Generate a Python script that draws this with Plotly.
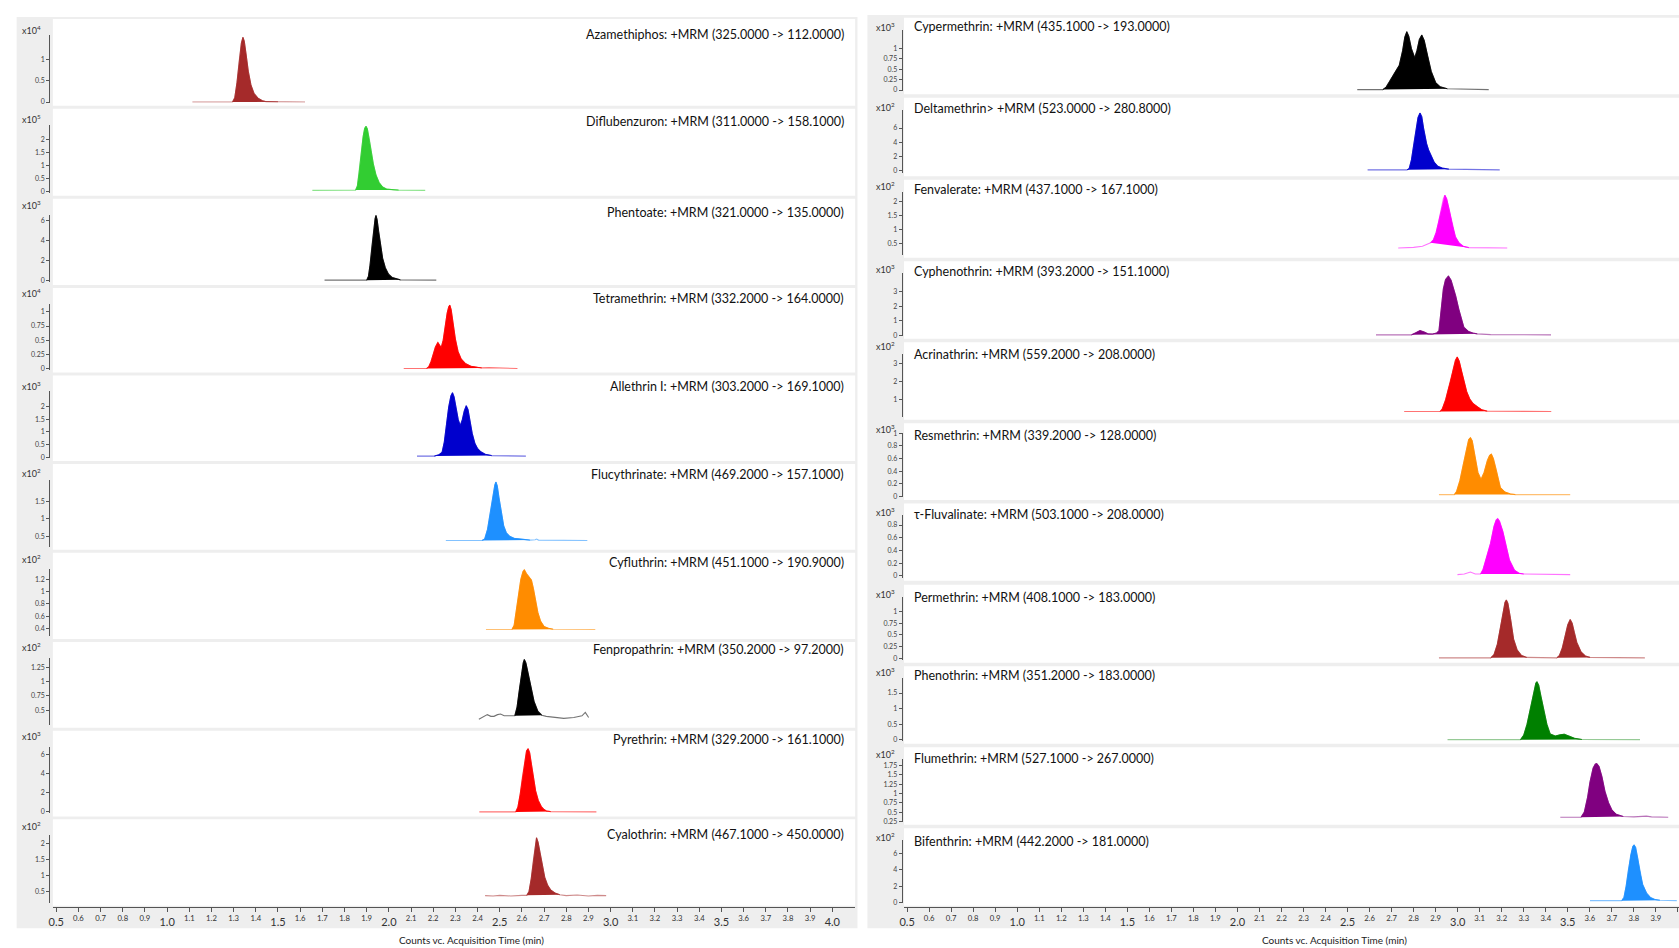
import plotly.graph_objects as go

W, H = 1679, 948

# ------------------------------------------------------------------ data
left_labels = [
    "Azamethiphos: +MRM (325.0000 -> 112.0000)",
    "Diflubenzuron: +MRM (311.0000 -> 158.1000)",
    "Phentoate: +MRM (321.0000 -> 135.0000)",
    "Tetramethrin: +MRM (332.2000 -> 164.0000)",
    "Allethrin I: +MRM (303.2000 -> 169.1000)",
    "Flucythrinate: +MRM (469.2000 -> 157.1000)",
    "Cyfluthrin: +MRM (451.1000 -> 190.9000)",
    "Fenpropathrin: +MRM (350.2000 -> 97.2000)",
    "Pyrethrin: +MRM (329.2000 -> 161.1000)",
    "Cyalothrin: +MRM (467.1000 -> 450.0000)",
]
right_labels = [
    "Cypermethrin: +MRM (435.1000 -> 193.0000)",
    "Deltamethrin> +MRM (523.0000 -> 280.8000)",
    "Fenvalerate: +MRM (437.1000 -> 167.1000)",
    "Cyphenothrin: +MRM (393.2000 -> 151.1000)",
    "Acrinathrin: +MRM (559.2000 -> 208.0000)",
    "Resmethrin: +MRM (339.2000 -> 128.0000)",
    "τ-Fluvalinate: +MRM (503.1000 -> 208.0000)",
    "Permethrin: +MRM (408.1000 -> 183.0000)",
    "Phenothrin: +MRM (351.2000 -> 183.0000)",
    "Flumethrin: +MRM (527.1000 -> 267.0000)",
    "Bifenthrin: +MRM (442.2000 -> 181.0000)",
]
left_exponents = [4, 5, 3, 4, 3, 2, 2, 2, 3, 2]
right_exponents = [3, 2, 2, 3, 2, 3, 3, 3, 3, 2, 2]

left_yranges = [[-0.02, 1.57], [-0.06, 2.56], [-0.2, 6.6], [-0.02, 1.14], [-0.03, 2.59],
                [0.2, 2.12], [0.275, 1.38], [0.24, 1.42], [-0.16, 6.83], [0.15, 2.27]]
right_yranges = [[-0.03, 1.46], [-0.38, 8.6], [0.115, 2.35], [-0.05, 4.28], [0.066, 3.53],
                 [-0.01, 1.0], [-0.03, 0.95], [-0.03, 1.32], [-0.03, 1.98], [0.24, 1.92], [-0.05, 7.7]]

left_yticks = [[0, 0.5, 1], [0, 0.5, 1, 1.5, 2], [0, 2, 4, 6], [0, 0.25, 0.5, 0.75, 1],
               [0, 0.5, 1, 1.5, 2], [0.5, 1, 1.5], [0.4, 0.6, 0.8, 1, 1.2],
               [0.5, 0.75, 1, 1.25], [0, 2, 4, 6], [0.5, 1, 1.5, 2]]
right_yticks = [[0, 0.25, 0.5, 0.75, 1], [0, 2, 4, 6], [0.5, 1, 1.5, 2], [0, 1, 2, 3],
                [1, 2, 3], [0, 0.2, 0.4, 0.6, 0.8, 1], [0, 0.2, 0.4, 0.6, 0.8],
                [0, 0.25, 0.5, 0.75, 1], [0, 0.5, 1, 1.5],
                [0.25, 0.5, 0.75, 1, 1.25, 1.5, 1.75], [0, 2, 4, 6]]

x_tick_values = [round(0.5 + 0.1 * k, 1) for k in range(36)]

# chromatogram traces (time in min, counts in panel units)
azamethiphos_t = [1.114, 1.25, 1.295, 1.305, 1.315, 1.325, 1.335, 1.342, 1.348, 1.356, 1.366, 1.378, 1.392, 1.41, 1.43, 1.445, 1.5, 1.622]
azamethiphos_y = [0, 0, 0, 0.1, 0.45, 0.95, 1.38, 1.51, 1.42, 1.12, 0.72, 0.40, 0.20, 0.09, 0.03, 0.01, 0.005, 0]

diflubenzuron_t = [1.655, 1.80, 1.85, 1.858, 1.866, 1.875, 1.884, 1.891, 1.897, 1.903, 1.911, 1.92, 1.93, 1.942, 1.956, 1.972, 1.99, 2.02, 2.044, 2.164]
diflubenzuron_y = [0.03, 0.03, 0.04, 0.2, 0.7, 1.45, 2.1, 2.42, 2.5, 2.4, 2.05, 1.55, 1.05, 0.62, 0.33, 0.16, 0.08, 0.05, 0.04, 0.03]

phentoate_t = [1.71, 1.90, 1.908, 1.915, 1.923, 1.931, 1.938, 1.942, 1.947, 1.954, 1.962, 1.972, 1.984, 1.998, 2.015, 2.035, 2.052, 2.214]
phentoate_y = [0, 0, 0.4, 1.5, 3.3, 5.1, 6.2, 6.5, 6.1, 4.9, 3.5, 2.2, 1.25, 0.62, 0.27, 0.1, 0.03, 0]

tetramethrin_t = [2.067, 2.17, 2.18, 2.19, 2.20, 2.21, 2.221, 2.229, 2.236, 2.245, 2.254, 2.263, 2.27, 2.275, 2.281, 2.29, 2.30, 2.312, 2.326, 2.345, 2.37, 2.40, 2.419, 2.45, 2.58]
tetramethrin_y = [0, 0, 0.03, 0.12, 0.25, 0.38, 0.46, 0.41, 0.37, 0.5, 0.75, 0.98, 1.09, 1.12, 1.04, 0.8, 0.52, 0.3, 0.17, 0.09, 0.04, 0.02, 0.01, 0.015, 0]

allethrin_t = [2.127, 2.205, 2.225, 2.24, 2.25, 2.26, 2.27, 2.28, 2.287, 2.294, 2.303, 2.313, 2.322, 2.331, 2.34, 2.349, 2.357, 2.366, 2.376, 2.388, 2.40, 2.415, 2.435, 2.464, 2.618]
allethrin_y = [0.05, 0.05, 0.1, 0.2, 0.6, 1.3, 1.98, 2.42, 2.54, 2.38, 1.93, 1.48, 1.25, 1.47, 1.82, 2.03, 1.88, 1.43, 0.94, 0.55, 0.35, 0.22, 0.12, 0.07, 0.05]

flucythrinate_t = [2.257, 2.42, 2.432, 2.445, 2.458, 2.47, 2.478, 2.483, 2.489, 2.497, 2.507, 2.518, 2.53, 2.545, 2.565, 2.6, 2.636, 2.66, 2.666, 2.675, 2.895]
flucythrinate_y = [0.38, 0.38, 0.42, 0.7, 1.2, 1.7, 1.98, 2.06, 1.95, 1.6, 1.15, 0.8, 0.6, 0.5, 0.44, 0.41, 0.39, 0.4, 0.42, 0.39, 0.38]

cyfluthrin_t = [2.438, 2.555, 2.565, 2.575, 2.585, 2.595, 2.605, 2.611, 2.62, 2.632, 2.643, 2.652, 2.662, 2.672, 2.684, 2.70, 2.72, 2.741, 2.931]
cyfluthrin_y = [0.38, 0.38, 0.45, 0.7, 0.98, 1.2, 1.33, 1.36, 1.3, 1.24, 1.19, 1.05, 0.85, 0.66, 0.52, 0.43, 0.4, 0.385, 0.38]

fenpropathrin_t = [2.406, 2.425, 2.444, 2.46, 2.474, 2.49, 2.504, 2.52, 2.534, 2.55, 2.568, 2.578, 2.588, 2.598, 2.606, 2.611, 2.618, 2.628, 2.64, 2.655, 2.672, 2.69, 2.71, 2.744, 2.789, 2.834, 2.871, 2.886, 2.901]
fenpropathrin_y = [0.34, 0.38, 0.42, 0.39, 0.39, 0.42, 0.43, 0.40, 0.40, 0.41, 0.40, 0.55, 0.85, 1.15, 1.33, 1.39, 1.33, 1.15, 0.9, 0.65, 0.48, 0.41, 0.39, 0.37, 0.354, 0.37, 0.40, 0.46, 0.37]

pyrethrin_t = [2.408, 2.572, 2.582, 2.592, 2.602, 2.612, 2.621, 2.628, 2.635, 2.643, 2.652, 2.662, 2.674, 2.688, 2.70, 2.711, 2.73, 2.936]
pyrethrin_y = [0, 0, 0.5, 1.8, 3.6, 5.3, 6.4, 6.62, 6.2, 5.0, 3.5, 2.2, 1.2, 0.55, 0.25, 0.1, 0.03, 0]

cyalothrin_t = [2.434, 2.47, 2.5, 2.55, 2.6, 2.622, 2.632, 2.642, 2.652, 2.66, 2.666, 2.673, 2.682, 2.692, 2.703, 2.716, 2.73, 2.75, 2.771, 2.8, 2.85, 2.9, 2.94, 2.98]
cyalothrin_y = [0.37, 0.36, 0.38, 0.36, 0.38, 0.38, 0.5, 0.9, 1.5, 1.95, 2.19, 2.05, 1.7, 1.3, 0.95, 0.7, 0.55, 0.45, 0.4, 0.37, 0.39, 0.36, 0.38, 0.37]

cypermethrin_t = [2.544, 2.66, 2.675, 2.69, 2.705, 2.719, 2.735, 2.75, 2.76, 2.769, 2.778, 2.79, 2.805, 2.815, 2.826, 2.837, 2.848, 2.865, 2.88, 2.9, 2.92, 2.953, 3.141]
cypermethrin_y = [0.01, 0.01, 0.07, 0.2, 0.35, 0.46, 0.6, 0.95, 1.28, 1.41, 1.3, 1.0, 0.78, 0.95, 1.22, 1.33, 1.2, 0.78, 0.45, 0.18, 0.08, 0.03, 0.01]

deltamethrin_t = [2.591, 2.77, 2.78, 2.79, 2.80, 2.81, 2.82, 2.829, 2.837, 2.845, 2.852, 2.859, 2.868, 2.88, 2.893, 2.91, 2.93, 2.96, 3.05, 3.1, 3.191]
deltamethrin_y = [0.1, 0.1, 0.3, 1.5, 3.6, 5.8, 7.5, 8.12, 7.6, 6.0, 4.6, 3.78, 2.9, 2.0, 1.2, 0.6, 0.35, 0.2, 0.15, 0.18, 0.1]

fenvalerate_t = [2.73, 2.8, 2.84, 2.86, 2.877, 2.89, 2.902, 2.912, 2.925, 2.935, 2.942, 2.95, 2.962, 2.976, 2.99, 3.006, 3.025, 3.051, 3.225]
fenvalerate_y = [0.36, 0.38, 0.42, 0.5, 0.54, 0.65, 0.9, 1.23, 1.75, 2.1, 2.22, 2.1, 1.7, 1.12, 0.75, 0.54, 0.42, 0.37, 0.36]

cyphenothrin_t = [2.629, 2.79, 2.81, 2.829, 2.848, 2.865, 2.885, 2.905, 2.915, 2.926, 2.935, 2.945, 2.958, 2.97, 2.981, 2.991, 3.005, 3.018, 3.028, 3.05, 3.07, 3.089, 3.15, 3.424]
cyphenothrin_y = [0.02, 0.02, 0.15, 0.32, 0.22, 0.09, 0.08, 0.15, 0.32, 2.03, 3.2, 3.85, 4.09, 3.8, 3.3, 2.72, 1.8, 1.0, 0.55, 0.25, 0.14, 0.09, 0.04, 0.02]

acrinathrin_t = [2.757, 2.92, 2.93, 2.945, 2.958, 2.968, 2.98, 2.99, 2.998, 3.007, 3.018, 3.03, 3.041, 3.055, 3.07, 3.089, 3.11, 3.134, 3.425]
acrinathrin_y = [0.36, 0.36, 0.5, 1.0, 1.6, 2.0, 2.7, 3.2, 3.38, 3.15, 2.55, 1.95, 1.46, 1.05, 0.8, 0.63, 0.45, 0.38, 0.36]

resmethrin_t = [2.915, 2.985, 2.995, 3.01, 3.025, 3.04, 3.05, 3.058, 3.066, 3.078, 3.092, 3.106, 3.12, 3.135, 3.145, 3.153, 3.162, 3.175, 3.194, 3.215, 3.24, 3.262, 3.511]
resmethrin_y = [0.03, 0.03, 0.08, 0.25, 0.5, 0.75, 0.9, 0.93, 0.88, 0.65, 0.38, 0.27, 0.38, 0.57, 0.65, 0.67, 0.6, 0.42, 0.14, 0.07, 0.04, 0.03, 0.03]

fluvalinate_t = [2.999, 3.03, 3.058, 3.08, 3.104, 3.115, 3.13, 3.149, 3.165, 3.175, 3.182, 3.19, 3.205, 3.217, 3.235, 3.258, 3.28, 3.3, 3.511]
fluvalinate_y = [0.02, 0.03, 0.06, 0.03, 0.03, 0.1, 0.28, 0.51, 0.78, 0.88, 0.9, 0.86, 0.7, 0.51, 0.25, 0.09, 0.04, 0.03, 0.02]

permethrin_t = [2.915, 3.0, 3.03, 3.06, 3.15, 3.165, 3.18, 3.193, 3.205, 3.215, 3.221, 3.228, 3.24, 3.254, 3.27, 3.29, 3.314, 3.45, 3.462, 3.475, 3.488, 3.5, 3.511, 3.52, 3.53, 3.541, 3.56, 3.58, 3.601, 3.7, 3.85]
permethrin_y = [0.01, 0.01, 0.02, 0.01, 0.01, 0.08, 0.3, 0.62, 0.95, 1.2, 1.25, 1.18, 0.85, 0.41, 0.18, 0.06, 0.02, 0.01, 0.06, 0.22, 0.48, 0.72, 0.83, 0.75, 0.55, 0.34, 0.14, 0.05, 0.02, 0.01, 0.01]

phenothrin_t = [2.954, 3.285, 3.3, 3.315, 3.33, 3.345, 3.355, 3.36, 3.368, 3.378, 3.39, 3.405, 3.42, 3.443, 3.465, 3.484, 3.505, 3.53, 3.564, 3.828]
phenothrin_y = [0, 0, 0.15, 0.5, 0.99, 1.55, 1.82, 1.86, 1.75, 1.4, 0.99, 0.5, 0.19, 0.12, 0.16, 0.18, 0.12, 0.05, 0.01, 0]

flumethrin_t = [3.466, 3.56, 3.575, 3.59, 3.601, 3.615, 3.625, 3.632, 3.642, 3.655, 3.669, 3.685, 3.70, 3.72, 3.752, 3.8, 3.857, 3.88, 3.956]
flumethrin_y = [0.36, 0.36, 0.5, 0.9, 1.31, 1.68, 1.79, 1.8, 1.72, 1.45, 1.05, 0.75, 0.56, 0.44, 0.38, 0.37, 0.39, 0.37, 0.36]

bifenthrin_t = [3.601, 3.745, 3.755, 3.765, 3.775, 3.786, 3.795, 3.801, 3.808, 3.818, 3.828, 3.84, 3.858, 3.875, 3.895, 3.918, 3.995]
bifenthrin_y = [0.2, 0.2, 0.6, 2.0, 3.98, 5.9, 6.9, 7.1, 6.8, 5.4, 3.56, 2.2, 1.13, 0.6, 0.35, 0.25, 0.2]

# integrated peak windows (start, end) in min
left_windows = [[(1.295, 1.5)], [(1.85, 2.044)], [(1.90, 2.052)], [(2.17, 2.419)], [(2.205, 2.464)],
                [(2.42, 2.636)], [(2.555, 2.741)], [(2.568, 2.69)], [(2.572, 2.73)], [(2.622, 2.771)]]
right_windows = [[(2.66, 2.953)], [(2.77, 2.96)], [(2.877, 3.051)], [(2.79, 3.089)], [(2.92, 3.134)],
                 [(2.985, 3.262)], [(3.104, 3.3)], [(3.15, 3.314), (3.45, 3.601)], [(3.285, 3.564)],
                 [(3.56, 3.752)], [(3.745, 3.918)]]

left_series = [(azamethiphos_t, azamethiphos_y), (diflubenzuron_t, diflubenzuron_y),
               (phentoate_t, phentoate_y), (tetramethrin_t, tetramethrin_y),
               (allethrin_t, allethrin_y), (flucythrinate_t, flucythrinate_y),
               (cyfluthrin_t, cyfluthrin_y), (fenpropathrin_t, fenpropathrin_y),
               (pyrethrin_t, pyrethrin_y), (cyalothrin_t, cyalothrin_y)]
right_series = [(cypermethrin_t, cypermethrin_y), (deltamethrin_t, deltamethrin_y),
                (fenvalerate_t, fenvalerate_y), (cyphenothrin_t, cyphenothrin_y),
                (acrinathrin_t, acrinathrin_y), (resmethrin_t, resmethrin_y),
                (fluvalinate_t, fluvalinate_y), (permethrin_t, permethrin_y),
                (phenothrin_t, phenothrin_y), (flumethrin_t, flumethrin_y),
                (bifenthrin_t, bifenthrin_y)]

# ------------------------------------------------------------------ styles / layout constants
BROWN, LIME, BLACK, RED = "#a52a2a", "#32cd32", "#000000", "#ff0000"
MBLUE, DBLUE, ORANGE = "#0000cd", "#1e90ff", "#ff8c00"
MAGENTA, PURPLE, GREEN = "#ff00ff", "#800080", "#008000"
left_colors = [BROWN, LIME, BLACK, RED, MBLUE, DBLUE, ORANGE, BLACK, RED, BROWN]
right_colors = [BLACK, MBLUE, MAGENTA, PURPLE, RED, ORANGE, MAGENTA, BROWN, GREEN, PURPLE, DBLUE]

left_tops = [14, 104.7, 195.3, 285.5, 373.7, 463, 552.3, 642.3, 732, 821.3]
left_bots = [101.7, 192.3, 282.5, 370.7, 460, 549.3, 639.3, 729, 818.3, 908.3]
right_tops = [12.8, 93.5, 176.2, 258.5, 340.2, 421.8, 502.8, 584.7, 666.8, 748.5, 830.2]
right_bots = [90, 172.7, 255, 336.7, 418.3, 499.3, 580.7, 663.3, 745, 826.7, 908.3]
left_label_y = [30.1, 117.9, 209, 295.7, 384.6, 473.4, 562.3, 650.1, 741.1, 836.4]
right_label_y = [21.6, 104, 186.5, 268.9, 352.4, 433.8, 514.1, 597.6, 675.8, 760.4, 843.9]
left_exp_y = [25.3, 115.2, 202, 290.8, 384, 471.8, 558.5, 647.4, 737.4, 828.4]
right_exp_y = [22.1, 102.4, 182.7, 266.2, 344.4, 427.9, 511.4, 593.9, 673.1, 755.5, 839.1]

FONT = "Lato, Carlito, 'Open Sans', sans-serif"
GRAY = "#eeeeee"
AXC = "#555555"


def fx(px):
    return px / W


def fy(px):
    return 1 - px / H


def rgba(hexc, a):
    h = hexc.lstrip("#")
    r, g, b = int(h[0:2], 16), int(h[2:4], 16), int(h[4:6], 16)
    return f"rgba({r},{g},{b},{a})"


def fmt(v):
    return f"{v:g}"


fig = go.Figure()
layout = dict(width=W, height=H, margin=dict(l=0, r=0, t=0, b=0),
              paper_bgcolor="white", plot_bgcolor="rgba(0,0,0,0)",
              showlegend=False, font=dict(family=FONT, color="#222"))
shapes = [
    dict(type="rect", xref="paper", yref="paper", x0=fx(11.7), x1=fx(855), y0=fy(931), y1=fy(12),
         fillcolor=GRAY, line=dict(width=0), layer="below"),
    dict(type="rect", xref="paper", yref="paper", x0=fx(865), x1=1.0, y0=fy(931), y1=fy(10),
         fillcolor=GRAY, line=dict(width=0), layer="below"),
]
annotations = []

x_ticktext = [f"{v:.1f}" if round(v * 10) % 5 == 0 else f"<sup>{v:.1f}</sup>" for v in x_tick_values]

columns = [
    dict(labels=left_labels, exps=left_exponents, yr=left_yranges, yt=left_yticks, series=left_series,
         windows=left_windows, colors=left_colors, tops=left_tops, bots=left_bots,
         lab_y=left_label_y, exp_y=left_exp_y, xdom=[fx(48), fx(852.7)], xr=[0.4847, 4.103],
         axis_x=44.3, top_off=16, lab_x=844, lab_anchor="right", exp_x=27, title_x=468),
    dict(labels=right_labels, exps=right_exponents, yr=right_yranges, yt=right_yticks, series=right_series,
         windows=right_windows, colors=right_colors, tops=right_tops, bots=right_bots,
         lab_y=right_label_y, exp_y=right_exp_y, xdom=[fx(901.7), 1.0], xr=[0.486, 4.005],
         axis_x=899.3, top_off=12, lab_x=910, lab_anchor="left", exp_x=883, title_x=1333),
]

n = 0
for ci, col in enumerate(columns):
    npan = len(col["labels"])
    for i in range(npan):
        n += 1
        xa, ya = f"x{n}", f"y{n}"
        t, y = col["series"][i]
        color = col["colors"][i]
        top, bot = col["tops"][i], col["bots"][i]
        top_off = col["top_off"]
        if ci == 1 and i == 5:
            top_off = 10
        # white panel background
        shapes.append(dict(type="rect", xref="paper", yref="paper",
                           x0=col["xdom"][0], x1=col["xdom"][1], y0=fy(bot), y1=fy(top),
                           fillcolor="white", line=dict(width=0), layer="below"))
        # integrated peak fills
        for (s, e) in col["windows"][i]:
            idx = [k for k in range(len(t)) if s - 1e-9 <= t[k] <= e + 1e-9]
            fig.add_trace(go.Scatter(x=[t[idx[0]], t[idx[-1]]], y=[y[idx[0]], y[idx[-1]]],
                                     mode="lines", line=dict(width=0, color=color),
                                     xaxis=xa, yaxis=ya, hoverinfo="skip"))
            fig.add_trace(go.Scatter(x=[t[k] for k in idx], y=[y[k] for k in idx], mode="lines",
                                     fill="tonexty", fillcolor=color,
                                     line=dict(width=0.8, color=color),
                                     xaxis=xa, yaxis=ya, hoverinfo="skip"))
        # whole signal line
        fig.add_trace(go.Scatter(x=t, y=y, mode="lines", line=dict(width=1.1, color=rgba(color, 0.55)),
                                 xaxis=xa, yaxis=ya, hoverinfo="skip"))
        bottom_panel = (i == npan - 1)
        xdict = dict(domain=col["xdom"], range=col["xr"], showgrid=False, zeroline=False,
                     fixedrange=True)
        if bottom_panel:
            xdict.update(anchor="free", position=fy(910), showline=True, linecolor=AXC, linewidth=1,
                         tickmode="array", tickvals=x_tick_values, ticktext=x_ticktext,
                         ticks="outside", ticklen=4, tickcolor=AXC,
                         tickfont=dict(size=11, family=FONT, color="#333"))
        else:
            xdict.update(anchor=ya, showline=False, showticklabels=False, ticks="")
        layout["xaxis" if n == 1 else f"xaxis{n}"] = xdict
        yt = col["yt"][i]
        layout["yaxis" if n == 1 else f"yaxis{n}"] = dict(
            domain=[fy(bot - 3), fy(top + top_off)], range=col["yr"][i],
            anchor="free", position=fx(col["axis_x"]), showline=True, linecolor=AXC, linewidth=1,
            tickmode="array", tickvals=yt, ticktext=[fmt(v) for v in yt],
            ticks="outside", ticklen=3, tickcolor=AXC, showgrid=False, zeroline=False,
            tickfont=dict(size=7, family=FONT, color="#444"), fixedrange=True)
        annotations.append(dict(xref="paper", yref="paper", x=fx(col["lab_x"]), y=fy(col["lab_y"][i]),
                                text=col["labels"][i], showarrow=False, xanchor=col["lab_anchor"],
                                yanchor="middle", font=dict(size=12.5, family=FONT, color="#111")))
        annotations.append(dict(xref="paper", yref="paper", x=fx(col["exp_x"]), y=fy(col["exp_y"][i]),
                                text=f"x10<sup>{col['exps'][i]}</sup>", showarrow=False,
                                xanchor="center", yanchor="middle",
                                font=dict(size=9, family=FONT, color="#333")))
    annotations.append(dict(xref="paper", yref="paper", x=fx(col["title_x"]), y=fy(942.5),
                            text="Counts vc. Acquisition Time (min)", showarrow=False,
                            xanchor="center", yanchor="middle",
                            font=dict(size=10, family=FONT, color="#222")))

layout["shapes"] = shapes
layout["annotations"] = annotations
fig.update_layout(**layout)
fig.write_html("out.html", config={"displayModeBar": False},
               post_script="document.body.style.margin='0';document.body.style.overflow='hidden';")
